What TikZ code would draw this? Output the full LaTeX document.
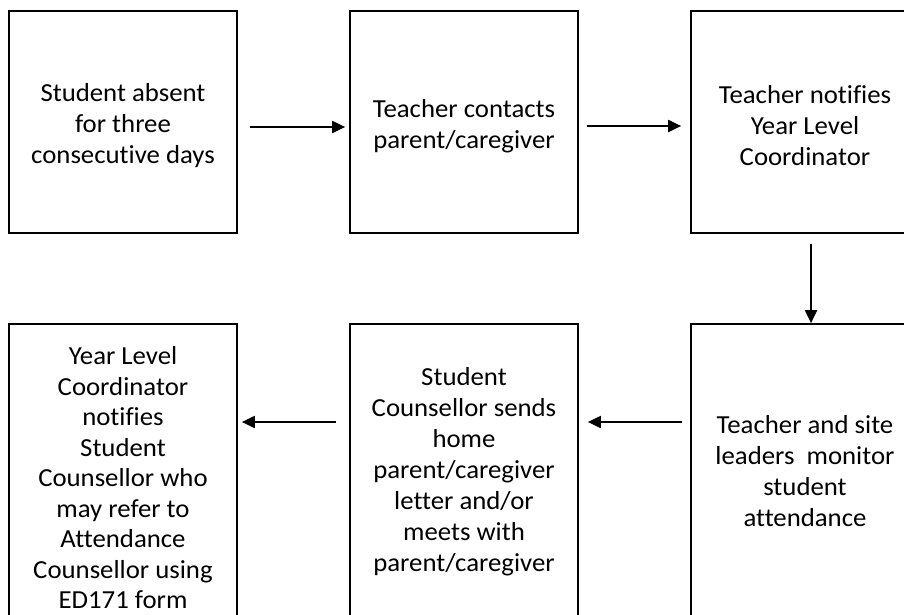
\documentclass[tikz,border=0pt]{standalone}
\usepackage{fontspec}
\setmainfont[Ligatures={NoCommon},FakeStretch=1.03]{Carlito}
\usetikzlibrary{arrows.meta}
\tikzset{
  boxnode/.style={draw=black, line width=1.7pt, rectangle, minimum width=228pt, inner sep=0pt},
  toprow/.style={boxnode, minimum height=222pt},
  botrow/.style={boxnode, minimum height=296pt},
  txt/.style={align=center, inner sep=0pt, font=\fontsize{26}{31}\selectfont},
  arr/.style={line width=2pt, -{Triangle[length=13pt,width=12pt]}}
}
\begin{document}
\begin{tikzpicture}[x=1pt,y=-1pt]
\useasboundingbox (0,0) rectangle (904,614);
\clip (0,0) rectangle (904,614);
\node[toprow] (b1) at (123,122) {};
\node[toprow] (b2) at (464,122) {};
\node[toprow] (b3) at (805,122) {};
\node[botrow] (b4) at (123,472) {};
\node[botrow] (b5) at (464,472) {};
\node[botrow] (b6) at (805,472) {};
\node[txt] (t1) at ([yshift=-4pt]b1.center) {Student absent\\for three\\consecutive days};
\node[txt] (t2) at ([yshift=-4pt]b2.center) {Teacher contacts\\parent/caregiver};
\node[txt] (t3) at ([yshift=-4pt]b3.center) {Teacher notifies\\Year Level\\Coordinator};
\node[txt, font=\fontsize{26}{30.5}\selectfont] (t4) at ([yshift=-6pt]b4.center) {Year Level\\Coordinator\\notifies\\Student\\Counsellor who\\may refer to\\Attendance\\Counsellor using\\ED171 form};
\node[txt] (t5) at (b5.center) {Student\\Counsellor sends\\home\\parent/caregiver\\letter and/or\\meets with\\parent/caregiver};
\node[txt] (t6) at ([yshift=1pt]b6.center) {Teacher and site\\leaders\ \ monitor\\student\\attendance};
\draw[arr] ([xshift=12pt,yshift=-5pt]b1.east) -- ([xshift=-4pt,yshift=-5pt]b2.west);
\draw[arr] ([xshift=8pt,yshift=-4pt]b2.east) -- ([xshift=-9pt,yshift=-4pt]b3.west);
\draw[arr] ([xshift=6pt,yshift=-10pt]b3.south) -- ([xshift=6pt]b6.north);
\draw[arr] ([xshift=-8pt,yshift=50pt]b6.west) -- ([xshift=9pt,yshift=50pt]b5.east);
\draw[arr] ([xshift=-13pt,yshift=50pt]b5.west) -- ([xshift=4pt,yshift=50pt]b4.east);
\end{tikzpicture}
\end{document}
